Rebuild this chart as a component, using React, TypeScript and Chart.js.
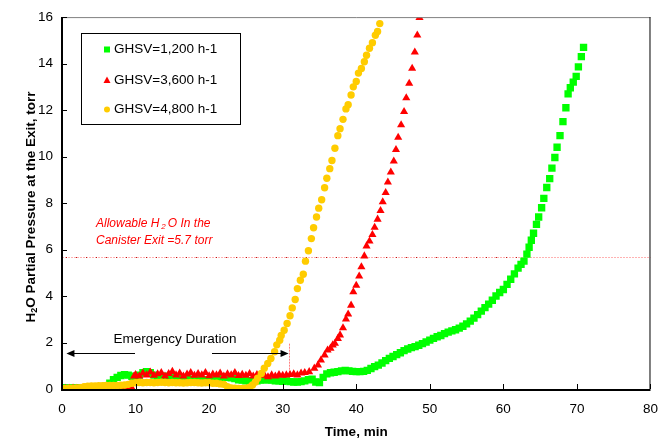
import React, { useEffect, useRef } from "react";
import { Chart, registerables } from "chart.js";
Chart.register(...registerables);

// Time (min), H2O partial pressure (torr)
const ghsv1200: [number, number][] = [
  [0, 0.05], [0.5, 0.05], [1, 0.04], [1.5, 0.05], [2, 0.05], [2.5, 0.06], [3, 0.05], [3.5, 0.06], [4, 0.06], [4.5, 0.07],
  [5, 0.07], [5.5, 0.08], [6, 0.12], [6.5, 0.25], [7, 0.4], [7.5, 0.5], [8, 0.58], [8.5, 0.62], [9, 0.6], [9.5, 0.55],
  [10, 0.5], [10.5, 0.6], [11, 0.7], [11.5, 0.75], [12, 0.7], [12.5, 0.6], [13, 0.55], [13.5, 0.5], [14, 0.55], [14.5, 0.5],
  [15, 0.48], [15.5, 0.5], [16, 0.45], [16.5, 0.5], [17, 0.45], [17.5, 0.42], [18, 0.4], [18.5, 0.42], [19, 0.4], [19.5, 0.38],
  [20, 0.4], [20.5, 0.42], [21, 0.45], [21.5, 0.5], [22, 0.52], [22.5, 0.5], [23, 0.48], [23.5, 0.45], [24, 0.4], [24.5, 0.38],
  [25, 0.35], [25.5, 0.35], [26, 0.33], [26.5, 0.35], [27, 0.38], [27.5, 0.4], [28, 0.4], [28.5, 0.38], [29, 0.35], [29.5, 0.35],
  [30, 0.33], [30.5, 0.35], [31, 0.32], [31.5, 0.3], [32, 0.3], [32.5, 0.32], [33, 0.35], [33.5, 0.4], [34, 0.42], [34.5, 0.3],
  [35, 0.28], [35.5, 0.5], [36, 0.65], [36.5, 0.7], [37, 0.72], [37.5, 0.75], [38, 0.78], [38.5, 0.8], [39, 0.78], [39.5, 0.76],
  [40, 0.75], [40.5, 0.75], [41, 0.76], [41.5, 0.8], [42, 0.88], [42.5, 0.96], [43, 1.03], [43.5, 1.12], [44, 1.22], [44.5, 1.32],
  [45, 1.4], [45.5, 1.48], [46, 1.56], [46.5, 1.65], [47, 1.72], [47.5, 1.78], [48, 1.82], [48.5, 1.88], [49, 1.95], [49.5, 2.02],
  [50, 2.1], [50.5, 2.18], [51, 2.25], [51.5, 2.3], [52, 2.38], [52.5, 2.45], [53, 2.5], [53.5, 2.55], [54, 2.62], [54.5, 2.7],
  [55, 2.8], [55.5, 2.92], [56, 3.05], [56.5, 3.2], [57, 3.35], [57.5, 3.5], [58, 3.65], [58.5, 3.82], [59, 4.0], [59.5, 4.15],
  [60, 4.28], [60.5, 4.5], [61, 4.72], [61.5, 4.95], [62, 5.2], [62.4, 5.36], [62.8, 5.5], [63.2, 5.8], [63.5, 6.1], [63.8, 6.4],
  [64.1, 6.7], [64.5, 7.08], [64.8, 7.4], [65.2, 7.8], [65.5, 8.2], [65.9, 8.67], [66.3, 9.05], [66.6, 9.5], [67.0, 9.96], [67.3, 10.4],
  [67.7, 10.9], [68.1, 11.5], [68.5, 12.1], [68.8, 12.7], [69.1, 12.96], [69.5, 13.2], [69.9, 13.45], [70.2, 13.86], [70.6, 14.3], [70.9, 14.7],
];

const ghsv3600: [number, number][] = [
  [0, 0.02], [0.5, 0.02], [1, 0.02], [1.5, 0.03], [2, 0.02], [2.5, 0.02], [3, 0.03], [3.5, 0.02], [4, 0.03], [4.5, 0.02],
  [5, 0.03], [5.5, 0.03], [6, 0.02], [6.5, 0.03], [7, 0.03], [7.5, 0.02], [8, 0.03], [8.5, 0.03], [9, 0.03], [9.5, 0.04],
  [9.8, 0.55], [10, 0.62], [10.5, 0.55], [11, 0.68], [11.5, 0.6], [12, 0.72], [12.5, 0.58], [13, 0.65], [13.5, 0.7], [14, 0.55],
  [14.5, 0.66], [15, 0.75], [15.5, 0.6], [16, 0.68], [16.5, 0.55], [17, 0.64], [17.5, 0.7], [18, 0.58], [18.5, 0.66], [19, 0.6],
  [19.5, 0.7], [20, 0.56], [20.5, 0.64], [21, 0.6], [21.5, 0.68], [22, 0.55], [22.5, 0.65], [23, 0.6], [23.5, 0.7], [24, 0.57],
  [24.5, 0.63], [25, 0.58], [25.5, 0.66], [26, 0.55], [26.5, 0.62], [27, 0.58], [27.5, 0.6], [28, 0.52], [28.5, 0.6], [29, 0.55],
  [29.5, 0.62], [30, 0.58], [30.5, 0.6], [31, 0.62], [31.5, 0.65], [32, 0.6], [32.5, 0.68], [33, 0.7], [33.6, 0.74], [34.3, 0.89],
  [34.8, 1.03], [35.2, 1.24], [35.7, 1.46], [36.1, 1.67], [36.5, 1.75], [36.8, 1.89], [37.1, 1.96], [37.5, 2.17], [37.8, 2.32], [38.2, 2.63],
  [38.6, 3.0], [38.9, 3.22], [39.3, 3.6], [39.6, 4.18], [40.0, 4.46], [40.4, 4.85], [40.7, 5.25], [41.1, 5.72], [41.4, 6.15], [41.8, 6.36],
  [42.2, 6.64], [42.5, 6.95], [42.9, 7.3], [43.3, 7.67], [43.6, 8.05], [44.0, 8.45], [44.3, 8.9], [44.7, 9.33], [45.1, 9.8], [45.4, 10.3],
  [45.7, 10.82], [46.1, 11.36], [46.5, 11.93], [46.8, 12.52], [47.2, 13.15], [47.6, 13.79], [47.96, 14.49], [48.3, 15.22], [48.6, 15.98],
];

const ghsv4800: [number, number][] = [
  [0, 0.02], [0.5, 0.02], [1, 0.03], [1.5, 0.03], [2, 0.04], [2.5, 0.06], [3, 0.1], [3.5, 0.12], [4, 0.13], [4.5, 0.13],
  [5, 0.14], [5.5, 0.14], [6, 0.15], [6.5, 0.15], [7, 0.15], [7.5, 0.15], [8, 0.16], [8.5, 0.17], [9, 0.2], [9.5, 0.25],
  [10, 0.27], [10.5, 0.28], [11, 0.27], [11.5, 0.28], [12, 0.28], [12.5, 0.27], [13, 0.28], [13.5, 0.29], [14, 0.28], [14.5, 0.27],
  [15, 0.28], [15.5, 0.27], [16, 0.27], [16.5, 0.26], [17, 0.27], [17.5, 0.28], [18, 0.28], [18.5, 0.27], [19, 0.26], [19.5, 0.27],
  [20, 0.27], [20.5, 0.25], [21, 0.25], [21.5, 0.22], [22, 0.2], [22.5, 0.1], [23, 0.05], [23.5, 0.03], [24, 0.02], [24.5, 0.02],
  [25, 0.03], [25.5, 0.08], [25.9, 0.17], [26.3, 0.3], [26.6, 0.46], [27.1, 0.67], [27.5, 0.89], [27.97, 1.1], [28.4, 1.31], [28.9, 1.6],
  [29.2, 1.9], [29.6, 2.1], [29.8, 2.3], [30.2, 2.53], [30.6, 2.82], [31.0, 3.15], [31.3, 3.49], [31.7, 3.85], [32.0, 4.32], [32.4, 4.68],
  [32.8, 4.94], [33.1, 5.5], [33.5, 5.95], [33.9, 6.47], [34.2, 6.94], [34.6, 7.4], [34.9, 7.78], [35.3, 8.14], [35.7, 8.66], [36.0, 9.07],
  [36.4, 9.48], [36.7, 9.83], [37.1, 10.36], [37.5, 10.9], [37.8, 11.2], [38.2, 11.6], [38.6, 12.05], [38.9, 12.23], [39.3, 12.65], [39.6, 13.0],
  [40.0, 13.23], [40.3, 13.59], [40.7, 13.79], [41.1, 14.08], [41.4, 14.36], [41.8, 14.66], [42.2, 14.9], [42.6, 15.22], [42.9, 15.38], [43.2, 15.72],
];

const seriesLabels = ["GHSV=1,200 h-1", "GHSV=3,600 h-1", "GHSV=4,800 h-1"];
const seriesColors = ["#00FF00", "#FF0000", "#FFCC00"];
const seriesShapes = ["rect", "triangle", "circle"];
const xTicks = [0, 10, 20, 30, 40, 50, 60, 70, 80];
const yTicks = [0, 2, 4, 6, 8, 10, 12, 14, 16];
const allowableLimit = 5.7;
const emergencyStart = 0.6;
const emergencyEnd = 30.8;
const arrowY = 1.53;
const xTitle = "Time, min";
const yTitleParts = ["H", "2", "O Partial Pressure at the Exit, torr"];
const limitTextLine1 = ["Allowable H", "2", "O In the"];
const limitTextLine2 = "Canister Exit =5.7 torr";
const emergencyText = "Emergency Duration";

const FONT = '"Liberation Sans", Arial, Helvetica, sans-serif';

const overlayPlugin = {
  id: "overlay",
  beforeDatasetsDraw(chart: any) {
    const { ctx, chartArea: a, scales } = chart;
    const x = scales.x, y = scales.y;
    ctx.save();
    const yl = Math.round(y.getPixelForValue(allowableLimit)) + 0.5;
    ctx.strokeStyle = "rgba(255,0,0,0.3)";
    ctx.lineWidth = 1;
    ctx.setLineDash([2, 1]);
    ctx.beginPath(); ctx.moveTo(a.left, yl); ctx.lineTo(a.right, yl); ctx.stroke();
    ctx.setLineDash([1, 9]);
    ctx.strokeStyle = "rgba(180,0,0,0.9)";
    ctx.beginPath(); ctx.moveTo(a.left + 4, yl); ctx.lineTo(x.getPixelForValue(62), yl); ctx.stroke();
    ctx.setLineDash([2, 1]);
    ctx.strokeStyle = "rgba(255,0,0,0.5)";
    const xe = Math.round(x.getPixelForValue(emergencyEnd)) + 0.5;
    ctx.beginPath(); ctx.moveTo(xe, y.getPixelForValue(1.95)); ctx.lineTo(xe, y.getPixelForValue(0.7)); ctx.stroke();
    ctx.restore();
  },
  afterDraw(chart: any) {
    const { ctx, chartArea: a, scales } = chart;
    const x = scales.x, y = scales.y;
    ctx.save();
    // frame
    ctx.strokeStyle = "#808080"; ctx.lineWidth = 1;
    ctx.beginPath(); ctx.moveTo(a.left, a.top + 0.5); ctx.lineTo(a.right, a.top + 0.5); ctx.stroke();
    ctx.strokeStyle = "#000";
    ctx.beginPath(); ctx.moveTo(a.right - 0.5, a.top); ctx.lineTo(a.right - 0.5, a.bottom); ctx.stroke();
    ctx.lineWidth = 2;
    ctx.beginPath(); ctx.moveTo(a.left, a.top); ctx.lineTo(a.left, a.bottom + 1); ctx.lineTo(a.right, a.bottom + 1); ctx.stroke();
    ctx.lineWidth = 1;
    for (const t of yTicks) {
      const py = Math.round(y.getPixelForValue(t)) + 0.5;
      ctx.beginPath(); ctx.moveTo(a.left, py); ctx.lineTo(a.left + 5, py); ctx.stroke();
    }
    for (const t of xTicks) {
      const px = Math.round(x.getPixelForValue(t)) + 0.5;
      ctx.beginPath(); ctx.moveTo(px, a.bottom); ctx.lineTo(px, a.bottom - 5); ctx.stroke();
    }
    // axis titles
    ctx.fillStyle = "#000";
    ctx.font = `bold 13.5px ${FONT}`;
    ctx.textAlign = "center"; ctx.textBaseline = "middle";
    ctx.fillText(xTitle, (a.left + a.right) / 2, 432);
    ctx.save();
    ctx.translate(31, 207);
    ctx.rotate(-Math.PI / 2);
    const big = `bold 13.5px ${FONT}`, small = `bold 9px ${FONT}`;
    ctx.font = big; const w0 = ctx.measureText(yTitleParts[0]).width;
    const w2 = ctx.measureText(yTitleParts[2]).width;
    ctx.font = small; const w1 = ctx.measureText(yTitleParts[1]).width;
    let sx = -(w0 + w1 + w2) / 2;
    ctx.textAlign = "left";
    ctx.font = big; ctx.fillText(yTitleParts[0], sx, 0); sx += w0;
    ctx.font = small; ctx.fillText(yTitleParts[1], sx, 4); sx += w1;
    ctx.font = big; ctx.fillText(yTitleParts[2], sx, 0);
    ctx.restore();
    // limit annotation
    ctx.fillStyle = "#FF0000";
    ctx.textAlign = "left"; ctx.textBaseline = "middle";
    const it = `italic 12px ${FONT}`, its = `italic 8px ${FONT}`;
    let lx = 96;
    ctx.font = it; ctx.fillText(limitTextLine1[0], lx, 224); lx += ctx.measureText(limitTextLine1[0]).width + 2;
    ctx.font = its; ctx.fillText(limitTextLine1[1], lx, 227); lx += ctx.measureText(limitTextLine1[1]).width + 2;
    ctx.font = it; ctx.fillText(limitTextLine1[2], lx, 224);
    ctx.fillText(limitTextLine2, 96, 241);
    // emergency duration
    ctx.fillStyle = "#000"; ctx.strokeStyle = "#000"; ctx.lineWidth = 1;
    ctx.font = `13.5px ${FONT}`; ctx.textAlign = "center";
    ctx.fillText(emergencyText, 175, 339);
    const ay = Math.round(y.getPixelForValue(arrowY)) + 0.5;
    const x0 = x.getPixelForValue(emergencyStart), x1 = x.getPixelForValue(emergencyEnd);
    ctx.beginPath(); ctx.moveTo(x0 + 6, ay); ctx.lineTo(135, ay); ctx.stroke();
    ctx.beginPath(); ctx.moveTo(212, ay); ctx.lineTo(x1 - 6, ay); ctx.stroke();
    ctx.beginPath(); ctx.moveTo(x0, ay); ctx.lineTo(x0 + 8, ay - 3.5); ctx.lineTo(x0 + 8, ay + 3.5); ctx.closePath(); ctx.fill();
    ctx.beginPath(); ctx.moveTo(x1, ay); ctx.lineTo(x1 - 8, ay - 3.5); ctx.lineTo(x1 - 8, ay + 3.5); ctx.closePath(); ctx.fill();
    // legend
    ctx.fillStyle = "#fff";
    ctx.fillRect(81, 33, 159, 91);
    ctx.strokeStyle = "#000"; ctx.lineWidth = 1;
    ctx.strokeRect(81.5, 33.5, 159, 91);
    const rows = [49.5, 80, 109.5];
    ctx.font = `13.5px ${FONT}`; ctx.textAlign = "left"; ctx.textBaseline = "middle";
    rows.forEach((ry, i) => {
      ctx.fillStyle = seriesColors[i];
      const mx = 107;
      if (seriesShapes[i] === "rect") ctx.fillRect(mx - 3, ry - 3, 6, 6);
      else if (seriesShapes[i] === "triangle") {
        ctx.beginPath(); ctx.moveTo(mx, ry - 3.5); ctx.lineTo(mx + 3.5, ry + 3); ctx.lineTo(mx - 3.5, ry + 3); ctx.closePath(); ctx.fill();
      } else { ctx.beginPath(); ctx.arc(mx, ry, 3, 0, Math.PI * 2); ctx.fill(); }
      ctx.fillStyle = "#000";
      ctx.fillText(seriesLabels[i], 114, ry);
    });
    ctx.restore();
  },
};

export default function App() {
  const ref = useRef<HTMLCanvasElement | null>(null);
  useEffect(() => {
    if (!ref.current) return;
    const toPts = (arr: [number, number][]) => arr.map(([x, y]) => ({ x, y }));
    const data = [ghsv1200, ghsv3600, ghsv4800];
    const radii = [5.2, 4.7, 3.7];
    const orders = [2, 1, 0];
    const chart = new Chart(ref.current, {
      type: "scatter",
      data: {
        datasets: data.map((d, i) => ({
          label: seriesLabels[i],
          data: toPts(d),
          pointStyle: seriesShapes[i] as any,
          pointRadius: radii[i],
          pointBackgroundColor: seriesColors[i],
          pointBorderColor: seriesColors[i],
          pointBorderWidth: 0,
          showLine: false,
          order: orders[i],
        })),
      },
      options: {
        responsive: false,
        animation: false,
        events: [],
        layout: { padding: { left: 0, top: 16, right: 18, bottom: 0 } },
        plugins: { legend: { display: false }, tooltip: { enabled: false }, title: { display: false } },
        scales: {
          x: {
            type: "linear", min: 0, max: 80,
            afterFit: (s: any) => { s.height = 51; },
            afterBuildTicks: (s: any) => { s.ticks = xTicks.map((v) => ({ value: v })); },
            grid: { display: false, drawTicks: false },
            border: { display: false },
            ticks: { color: "#000", padding: 12, font: { family: FONT, size: 13.5 }, maxRotation: 0 },
          },
          y: {
            type: "linear", min: 0, max: 16,
            afterFit: (s: any) => { s.width = 62; },
            afterBuildTicks: (s: any) => { s.ticks = yTicks.map((v) => ({ value: v })); },
            grid: { display: false, drawTicks: false },
            border: { display: false },
            ticks: { color: "#000", padding: 9, font: { family: FONT, size: 13.5 } },
          },
        },
      },
      plugins: [overlayPlugin],
    });
    return () => chart.destroy();
  }, []);
  return (
    <div style={{ position: "fixed", left: 0, top: 0, width: 670, height: 440, background: "#fff" }}>
      <canvas ref={ref} width={670} height={440} />
    </div>
  );
}
